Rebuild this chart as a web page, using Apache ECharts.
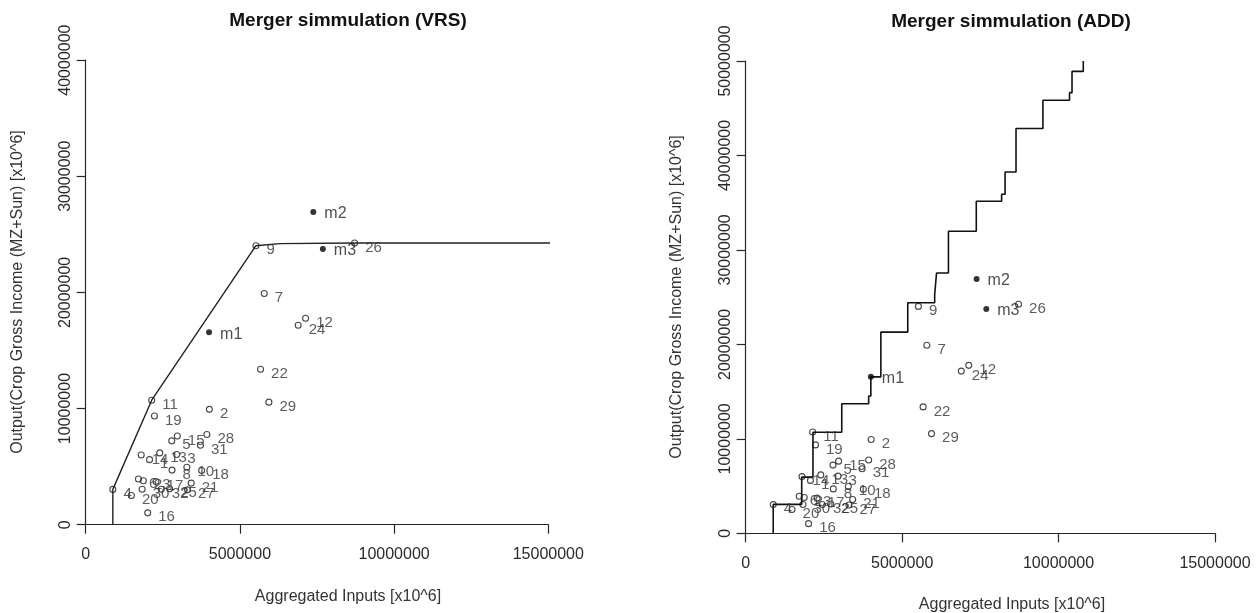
<!DOCTYPE html>
<html>
<head>
<meta charset="utf-8">
<script src="https://cdn.jsdelivr.net/npm/echarts@6/dist/echarts.min.js"></script>
<style>
  html, body { margin: 0; padding: 0; background: #fff; }
  #chart { width: 1257px; height: 613px; }
</style>
</head>
<body>
<div id="chart"></div>
<script>
// Farms (DMUs): aggregated inputs and crop gross income, both in x10^6
const farmIds = ['1','2','3','4','5','6','7','8','9','10','11','12','13','14','15','16',
                 '17','18','19','20','21','22','23','24','25','26','27','28','29','30','31','32'];
const farmInputs = [2070000, 4010000, 2950000, 880000, 2790000, 1710000, 5790000, 2800000,
                    5520000, 3280000, 2140000, 7130000, 2400000, 1800000, 2970000, 2010000,
                    2280000, 3760000, 2230000, 1480000, 3420000, 5670000, 1870000, 6890000,
                    2720000, 8720000, 3300000, 3930000, 5940000, 1830000, 3720000, 2450000];
const farmOutputs = [5600000, 9930000, 6050000, 3040000, 7220000, 3930000, 19900000, 4700000,
                     24020000, 4950000, 10720000, 17780000, 6180000, 6000000, 7640000, 1020000,
                     3720000, 4660000, 9360000, 2520000, 3580000, 13380000, 3790000, 17170000,
                     3100000, 24250000, 3000000, 7760000, 10550000, 3050000, 6840000, 3050000];

// Simulated mergers
const mergerIds = ['m1', 'm2', 'm3'];
const mergerInputs = [4000000, 7380000, 7690000];
const mergerOutputs = [16560000, 26920000, 23740000];

// VRS frontier vertices
const vrsInputs = [880000, 880000, 2140000, 5520000, 6300000, 8720000, 17050000];
const vrsOutputs = [0, 3040000, 10720000, 24020000, 24200000, 24250000, 24250000];

// ADD frontier: staircase corners (level reached at each input step)
const addInputs = [880000, 880000, 1790000, 2150000, 3070000, 3930000, 4000000, 4320000,
                   5180000, 6040000, 6100000, 6480000, 7370000, 8180000, 8290000, 8640000,
                   9500000, 10350000, 10430000, 10790000];
const addOutputs = [0, 3060000, 5950000, 10700000, 13710000, 14530000, 16560000, 21300000,
                    24400000, 25270000, 27560000, 31980000, 35160000, 35900000, 38250000, 42860000,
                    45850000, 46650000, 48900000, 50000000];

// Axis ranges
const xMax = 15000000, xStep = 5000000;
const yMaxVRS = 40000000, yMaxADD = 50000000, yStep = 10000000;

const FONT = '"Liberation Sans", Arial, sans-serif';
const INK = '#262626';

function pairs(xs, ys, names) {
  return xs.map((x, i) => names ? { name: names[i], value: [x, ys[i]] } : [x, ys[i]]);
}

function xAxisCfg(gridIndex) {
  return {
    type: 'value', gridIndex, min: 0, max: xMax, interval: xStep,
    axisLine: { show: true, onZero: false, lineStyle: { color: INK, width: 1.2 } },
    axisTick: { show: true, inside: false, length: 9, lineStyle: { color: INK, width: 1.2 } },
    axisLabel: { show: true, margin: 22, color: '#2a2a2a', fontSize: 16, fontFamily: FONT,
                 formatter: v => String(v), showMinLabel: true, showMaxLabel: true },
    splitLine: { show: false }
  };
}
function yAxisCfg(gridIndex, max) {
  return {
    type: 'value', gridIndex, min: 0, max, interval: yStep,
    axisLine: { show: true, onZero: false, lineStyle: { color: INK, width: 1.2 } },
    axisTick: { show: true, inside: false, length: 9, lineStyle: { color: INK, width: 1.2 } },
    axisLabel: { show: true, rotate: 90, margin: 12, color: '#2a2a2a', fontSize: 16, fontFamily: FONT,
                 formatter: v => String(v), showMinLabel: true, showMaxLabel: true },
    splitLine: { show: false }
  };
}

function farmSeries(i) {
  return {
    type: 'scatter', xAxisIndex: i, yAxisIndex: i, z: 3,
    data: pairs(farmInputs, farmOutputs, farmIds),
    symbol: 'circle', symbolSize: 6,
    itemStyle: { color: 'rgba(255,255,255,0)', borderColor: '#1a1a1a', borderWidth: 1.1 },
    label: { show: true, position: 'right', distance: 7, offset: [0, 4.5],
             formatter: p => p.name, color: '#333', fontSize: 15, fontFamily: FONT },
    emphasis: { disabled: true }, animation: false
  };
}
function mergerSeries(i) {
  return {
    type: 'scatter', xAxisIndex: i, yAxisIndex: i, z: 4,
    data: pairs(mergerInputs, mergerOutputs, mergerIds),
    symbol: 'circle', symbolSize: 6,
    itemStyle: { color: '#000' },
    label: { show: true, position: 'right', distance: 8, offset: [0, 2],
             formatter: p => p.name, color: '#222', fontSize: 16, fontFamily: FONT },
    emphasis: { disabled: true }, animation: false
  };
}

const titleFont = 'bold 19px ' + FONT;
const axisTitleFont = '16px ' + FONT;

const option = {
  backgroundColor: '#fff',
  animation: false,
  grid: [
    { left: 85.7, top: 60.1, width: 462.6, height: 464.6 },
    { left: 745.7, top: 61, width: 469.3, height: 472.3 }
  ],
  xAxis: [xAxisCfg(0), xAxisCfg(1)],
  yAxis: [yAxisCfg(0, yMaxVRS), yAxisCfg(1, yMaxADD)],
  series: [
    {
      type: 'line', xAxisIndex: 0, yAxisIndex: 0, z: 2, clip: false,
      data: pairs(vrsInputs, vrsOutputs), symbol: 'none',
      lineStyle: { color: '#222', width: 1.4 }, animation: false
    },
    {
      type: 'line', xAxisIndex: 1, yAxisIndex: 1, z: 2, step: 'end',
      data: pairs(addInputs, addOutputs), symbol: 'none',
      lineStyle: { color: '#111', width: 1.6 }, animation: false
    },
    farmSeries(0), mergerSeries(0),
    farmSeries(1), mergerSeries(1)
  ],
  graphic: [
    { type: 'text', x: 348, y: 21, style: { text: 'Merger simmulation (VRS)', font: titleFont, fill: '#111', align: 'center', verticalAlign: 'middle' } },
    { type: 'text', x: 1011, y: 22, style: { text: 'Merger simmulation (ADD)', font: titleFont, fill: '#111', align: 'center', verticalAlign: 'middle' } },
    { type: 'text', x: 348, y: 597, style: { text: 'Aggregated Inputs [x10^6]', font: axisTitleFont, fill: '#333', align: 'center', verticalAlign: 'middle' } },
    { type: 'text', x: 1012, y: 605, style: { text: 'Aggregated Inputs [x10^6]', font: axisTitleFont, fill: '#333', align: 'center', verticalAlign: 'middle' } },
    { type: 'text', x: 18, y: 292, rotation: Math.PI / 2, style: { text: 'Output(Crop Gross Income (MZ+Sun) [x10^6]', font: axisTitleFont, fill: '#333', align: 'center', verticalAlign: 'middle' } },
    { type: 'text', x: 677, y: 297, rotation: Math.PI / 2, style: { text: 'Output(Crop Gross Income (MZ+Sun) [x10^6]', font: axisTitleFont, fill: '#333', align: 'center', verticalAlign: 'middle' } }
  ]
};

const chart = echarts.init(document.getElementById('chart'), null, { renderer: 'canvas' });
chart.setOption(option);
</script>
</body>
</html>
